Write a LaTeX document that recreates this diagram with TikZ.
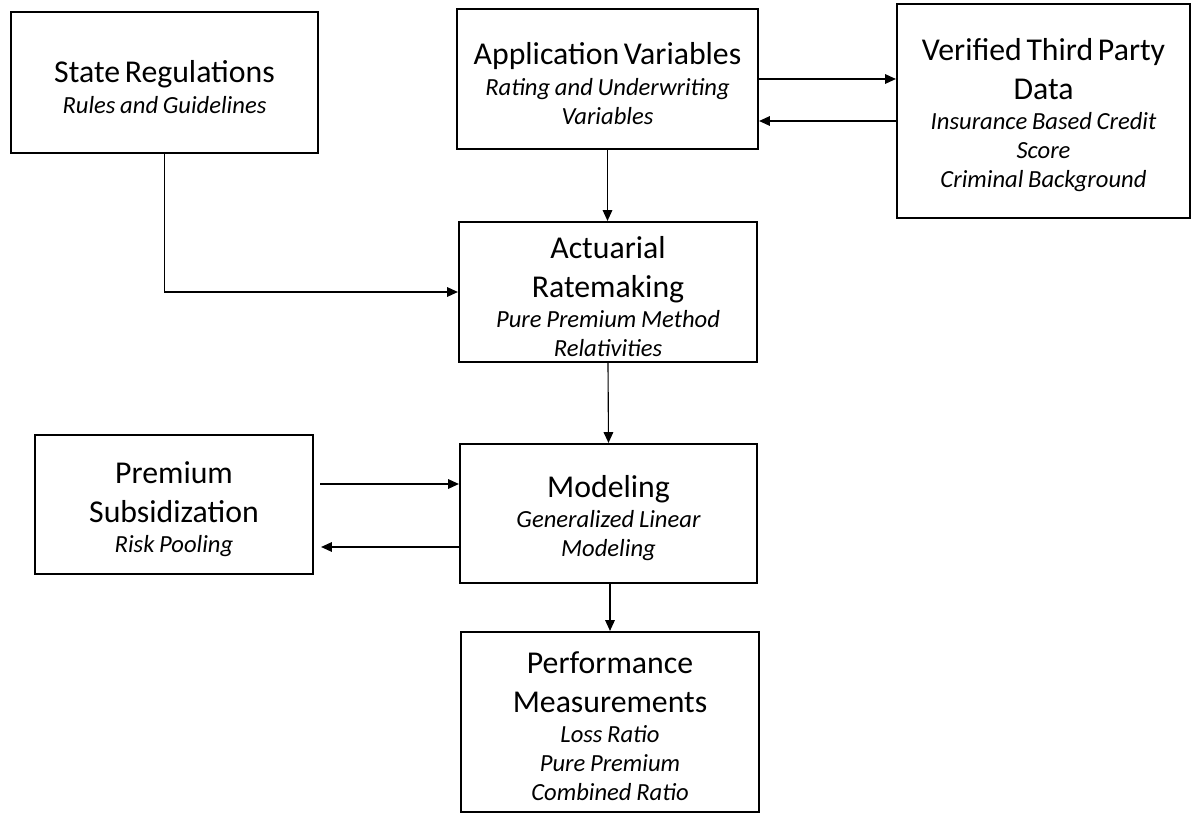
\documentclass[tikz,border=0pt]{standalone}
\usepackage{fontspec}
\setmainfont{Carlito}
\usetikzlibrary{arrows.meta}
\newcommand{\boxtitle}{\fontsize{22.6}{27.5}\selectfont}
\newcommand{\boxsub}{\fontsize{17.5}{20.6}\selectfont\itshape}
\newcommand{\boxtext}[2]{{\boxtitle\rule{0pt}{22pt}#1\par}\vspace{1pt}{\boxsub #2\par}}

\begin{document}
\begin{tikzpicture}[x=.025cm,y=-.025cm,
  stepbox/.style={draw,line width=1.5pt,align=center,inner sep=0pt},
  arr/.style={-{Triangle[length=.27cm,width=.24cm]},line width=.8pt}]
  \useasboundingbox (0,0) rectangle (1192,814);
  % boxes
  \node[stepbox,text width=7.675cm,minimum height=3.525cm] (regs) at (164.5,82.5)
    {\boxtext{State Regulations}{Rules and Guidelines}};
  \node[stepbox,text width=7.525cm,minimum height=3.5cm] (appvars) at (607.5,79)
    {\boxtext{Application Variables}{Rating and Underwriting\\Variables}};
  \node[stepbox,text width=7.325cm,minimum height=5.35cm] (thirdparty) at (1043.5,111)
    {\boxtext{Verified Third Party\\Data}{Insurance Based Credit\\Score\\Criminal Background}};
  \node[stepbox,text width=7.45cm,minimum height=3.5cm] (ratemaking) at (608,292)
    {\boxtext{Actuarial\\Ratemaking}{Pure Premium Method\\Relativities}};
  \node[stepbox,text width=6.95cm,minimum height=3.475cm] (subsidy) at (174,504.5)
    {\boxtext{Premium\\Subsidization}{Risk Pooling}};
  \node[stepbox,text width=7.425cm,minimum height=3.475cm] (modeling) at (608.5,513.5)
    {\boxtext{Modeling}{Generalized Linear\\Modeling}};
  \node[stepbox,text width=7.45cm,minimum height=4.5cm] (perf) at (610,722)
    {\boxtext{Performance\\Measurements}{Loss Ratio\\Pure Premium\\Combined Ratio}};
  % connectors
  \coordinate (tpin) at ([shift={(0,10)}]thirdparty.west);
  \coordinate (subout) at ([shift={(6,-20.5)}]subsidy.east);
  \coordinate (subin) at ([shift={(7,42.5)}]subsidy.east);
  \draw[arr] (appvars.south) -- (appvars.south |- ratemaking.north);
  \draw[arr] (appvars.east) -- (appvars.east -| thirdparty.west);
  \draw[arr] (tpin) -- (tpin -| appvars.east);
  \draw[arr] (regs.south) |- (ratemaking.west);
  \draw[arr] (ratemaking.south) -- (modeling.north);
  \draw[arr] (subout) -- (subout -| modeling.west);
  \draw[arr] (subin -| modeling.west) -- (subin);
  \draw[arr] (perf.north |- modeling.south) -- (perf.north);
\end{tikzpicture}
\end{document}
